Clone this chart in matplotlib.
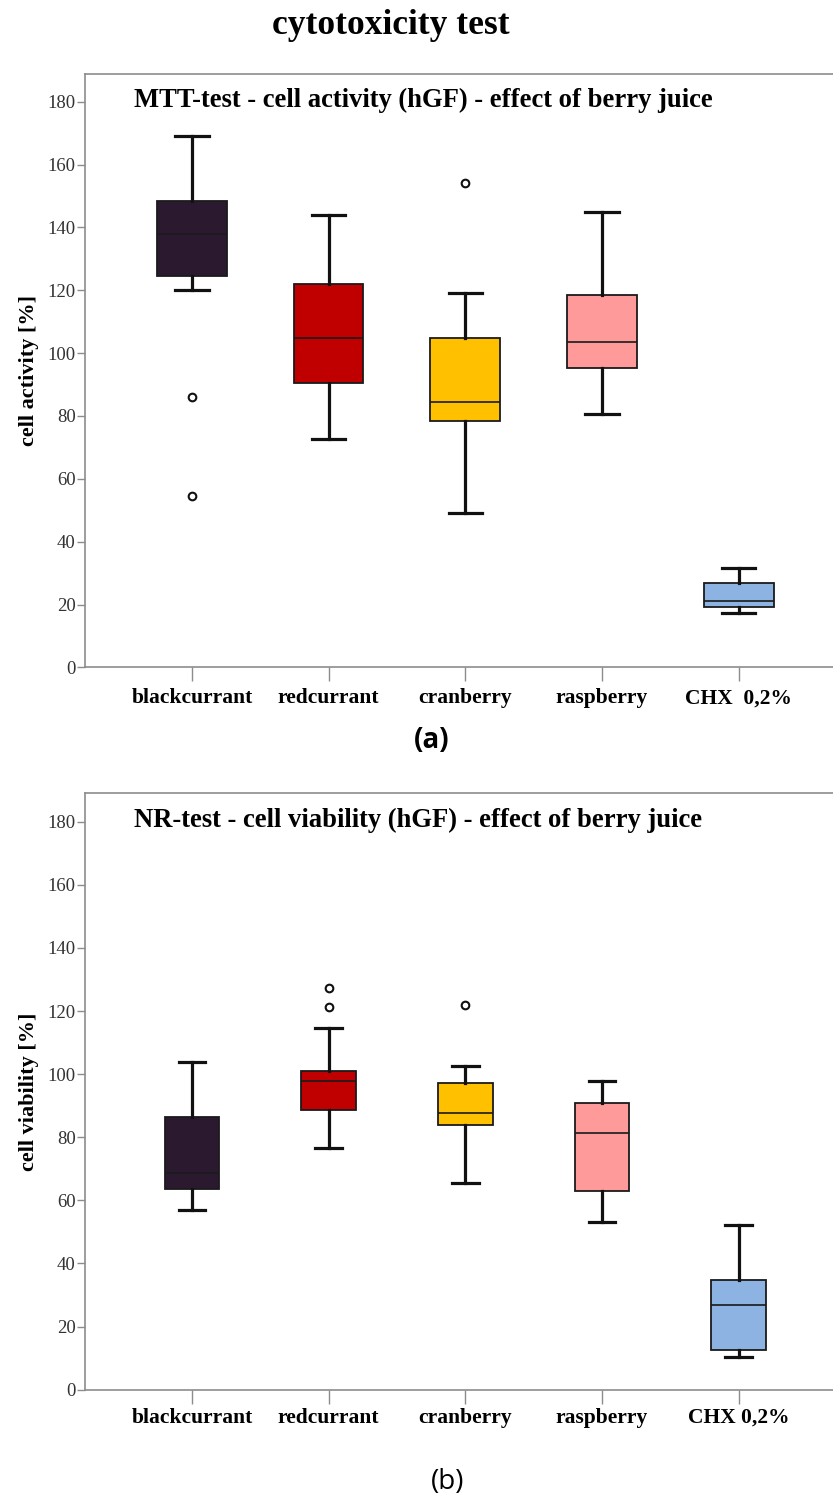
# -*- coding: utf-8 -*-
import matplotlib
matplotlib.use("Agg")
import matplotlib.pyplot as plt

# categories and colours
groups = ["blackcurrant", "redcurrant", "cranberry", "raspberry", "CHX  0,2%"]
groups_b = ["blackcurrant", "redcurrant", "cranberry", "raspberry", "CHX 0,2%"]
colors = ["#2B1A2F", "#C00000", "#FFC000", "#FF9A9A", "#8DB3E2"]

# MTT-test (a): whisker low, q1, median, q3, whisker high, outliers
mtt_whislo = [120.0, 72.6, 49.0, 80.6, 17.3]
mtt_q1 = [124.5, 90.6, 78.3, 95.3, 19.2]
mtt_med = [138.0, 104.8, 84.4, 103.6, 21.2]
mtt_q3 = [148.4, 122.1, 104.9, 118.6, 26.9]
mtt_whishi = [169.2, 143.9, 119.0, 145.0, 31.7]
mtt_fliers = [[86.1, 54.4], [], [154.0], [], []]

# NR-test (b)
nr_whislo = [56.8, 76.6, 65.6, 53.0, 10.5]
nr_q1 = [63.5, 88.7, 84.0, 62.9, 12.7]
nr_med = [68.7, 97.8, 87.6, 81.3, 26.7]
nr_q3 = [86.5, 100.9, 97.2, 91.0, 34.7]
nr_whishi = [103.8, 114.6, 102.6, 97.8, 52.2]
nr_fliers = [[], [127.2, 121.2], [121.8], [], []]

yticks = [0, 20, 40, 60, 80, 100, 120, 140, 160, 180]

SERIF = ["Liberation Serif", "DejaVu Serif"]
SPINE = "#8C8C8C"


def make_stats(lo, q1, med, q3, hi, fl, labels):
    stats = []
    for i in range(len(labels)):
        stats.append({"whislo": lo[i], "q1": q1[i], "med": med[i], "q3": q3[i],
                      "whishi": hi[i], "fliers": fl[i], "label": labels[i]})
    return stats


def draw_panel(ax, stats, labels, title, ylabel, width, capw, top, xpad):
    bp = ax.bxp(stats, positions=range(1, 6), widths=width, patch_artist=True,
                showfliers=True, capwidths=capw,
                boxprops=dict(edgecolor="#1a1a1a", linewidth=1.3),
                medianprops=dict(color="#1a1a1a", linewidth=1.2),
                whiskerprops=dict(color="#111111", linewidth=2.3),
                capprops=dict(color="#111111", linewidth=2.3),
                flierprops=dict(marker="o", markersize=5.5, markerfacecolor="white",
                                markeredgecolor="#111111", markeredgewidth=1.5))
    for patch, c in zip(bp["boxes"], colors):
        patch.set_facecolor(c)

    ax.set_xlim(0.22, 5.69)
    ax.set_ylim(0, top)
    ax.set_yticks(yticks)
    ax.set_xticks(range(1, 6))
    ax.set_xticklabels(labels, fontsize=15.5, fontweight="bold", family=SERIF)
    for t in ax.get_yticklabels():
        t.set_family(SERIF)
        t.set_fontsize(13.5)
        t.set_color("#333333")
    ax.tick_params(axis="y", direction="out", length=6, width=1, color=SPINE, pad=1)
    ax.tick_params(axis="x", direction="out", length=10, width=1, color=SPINE, pad=xpad)
    for s in ["left", "bottom", "top"]:
        ax.spines[s].set_color(SPINE)
        ax.spines[s].set_linewidth(1.2)
    ax.spines["right"].set_visible(False)
    ax.set_ylabel(ylabel, fontsize=16, fontweight="bold", family=SERIF, labelpad=6)
    ax.text(0.065, 0.955, title, transform=ax.transAxes, fontsize=19.2,
            fontweight="bold", family=SERIF, ha="left", va="center")


fig = plt.figure(figsize=(8.33, 14.99), dpi=100)

ax1 = fig.add_axes([0.1024, 0.5548, 0.8976, 0.3958])
draw_panel(ax1, make_stats(mtt_whislo, mtt_q1, mtt_med, mtt_q3, mtt_whishi, mtt_fliers, groups),
           groups, "MTT-test - cell activity (hGF) - effect of berry juice",
           "cell activity [%]", 0.51, 0.245, 188.8, 5)

ax2 = fig.add_axes([0.1024, 0.0729, 0.8976, 0.3979])
draw_panel(ax2, make_stats(nr_whislo, nr_q1, nr_med, nr_q3, nr_whishi, nr_fliers, groups_b),
           groups_b, "NR-test - cell viability (hGF) - effect of berry juice",
           "cell viability [%]", 0.40, 0.195, 189.0, 3)

fig.text(391 / 833, 1 - 26 / 1499, "cytotoxicity test", fontsize=25.5, fontweight="bold",
         family=SERIF, ha="center", va="center")
fig.text(432 / 833, 1 - 741 / 1499, "(a)", fontsize=20, fontweight="bold",
         family=["Open Sans", "DejaVu Sans"], ha="center", va="center")
fig.text(448 / 833, 1 - 1482 / 1499, "(b)", fontsize=20,
         family=["Open Sans", "DejaVu Sans"], ha="center", va="center")

fig.savefig("out.png", dpi=100)
